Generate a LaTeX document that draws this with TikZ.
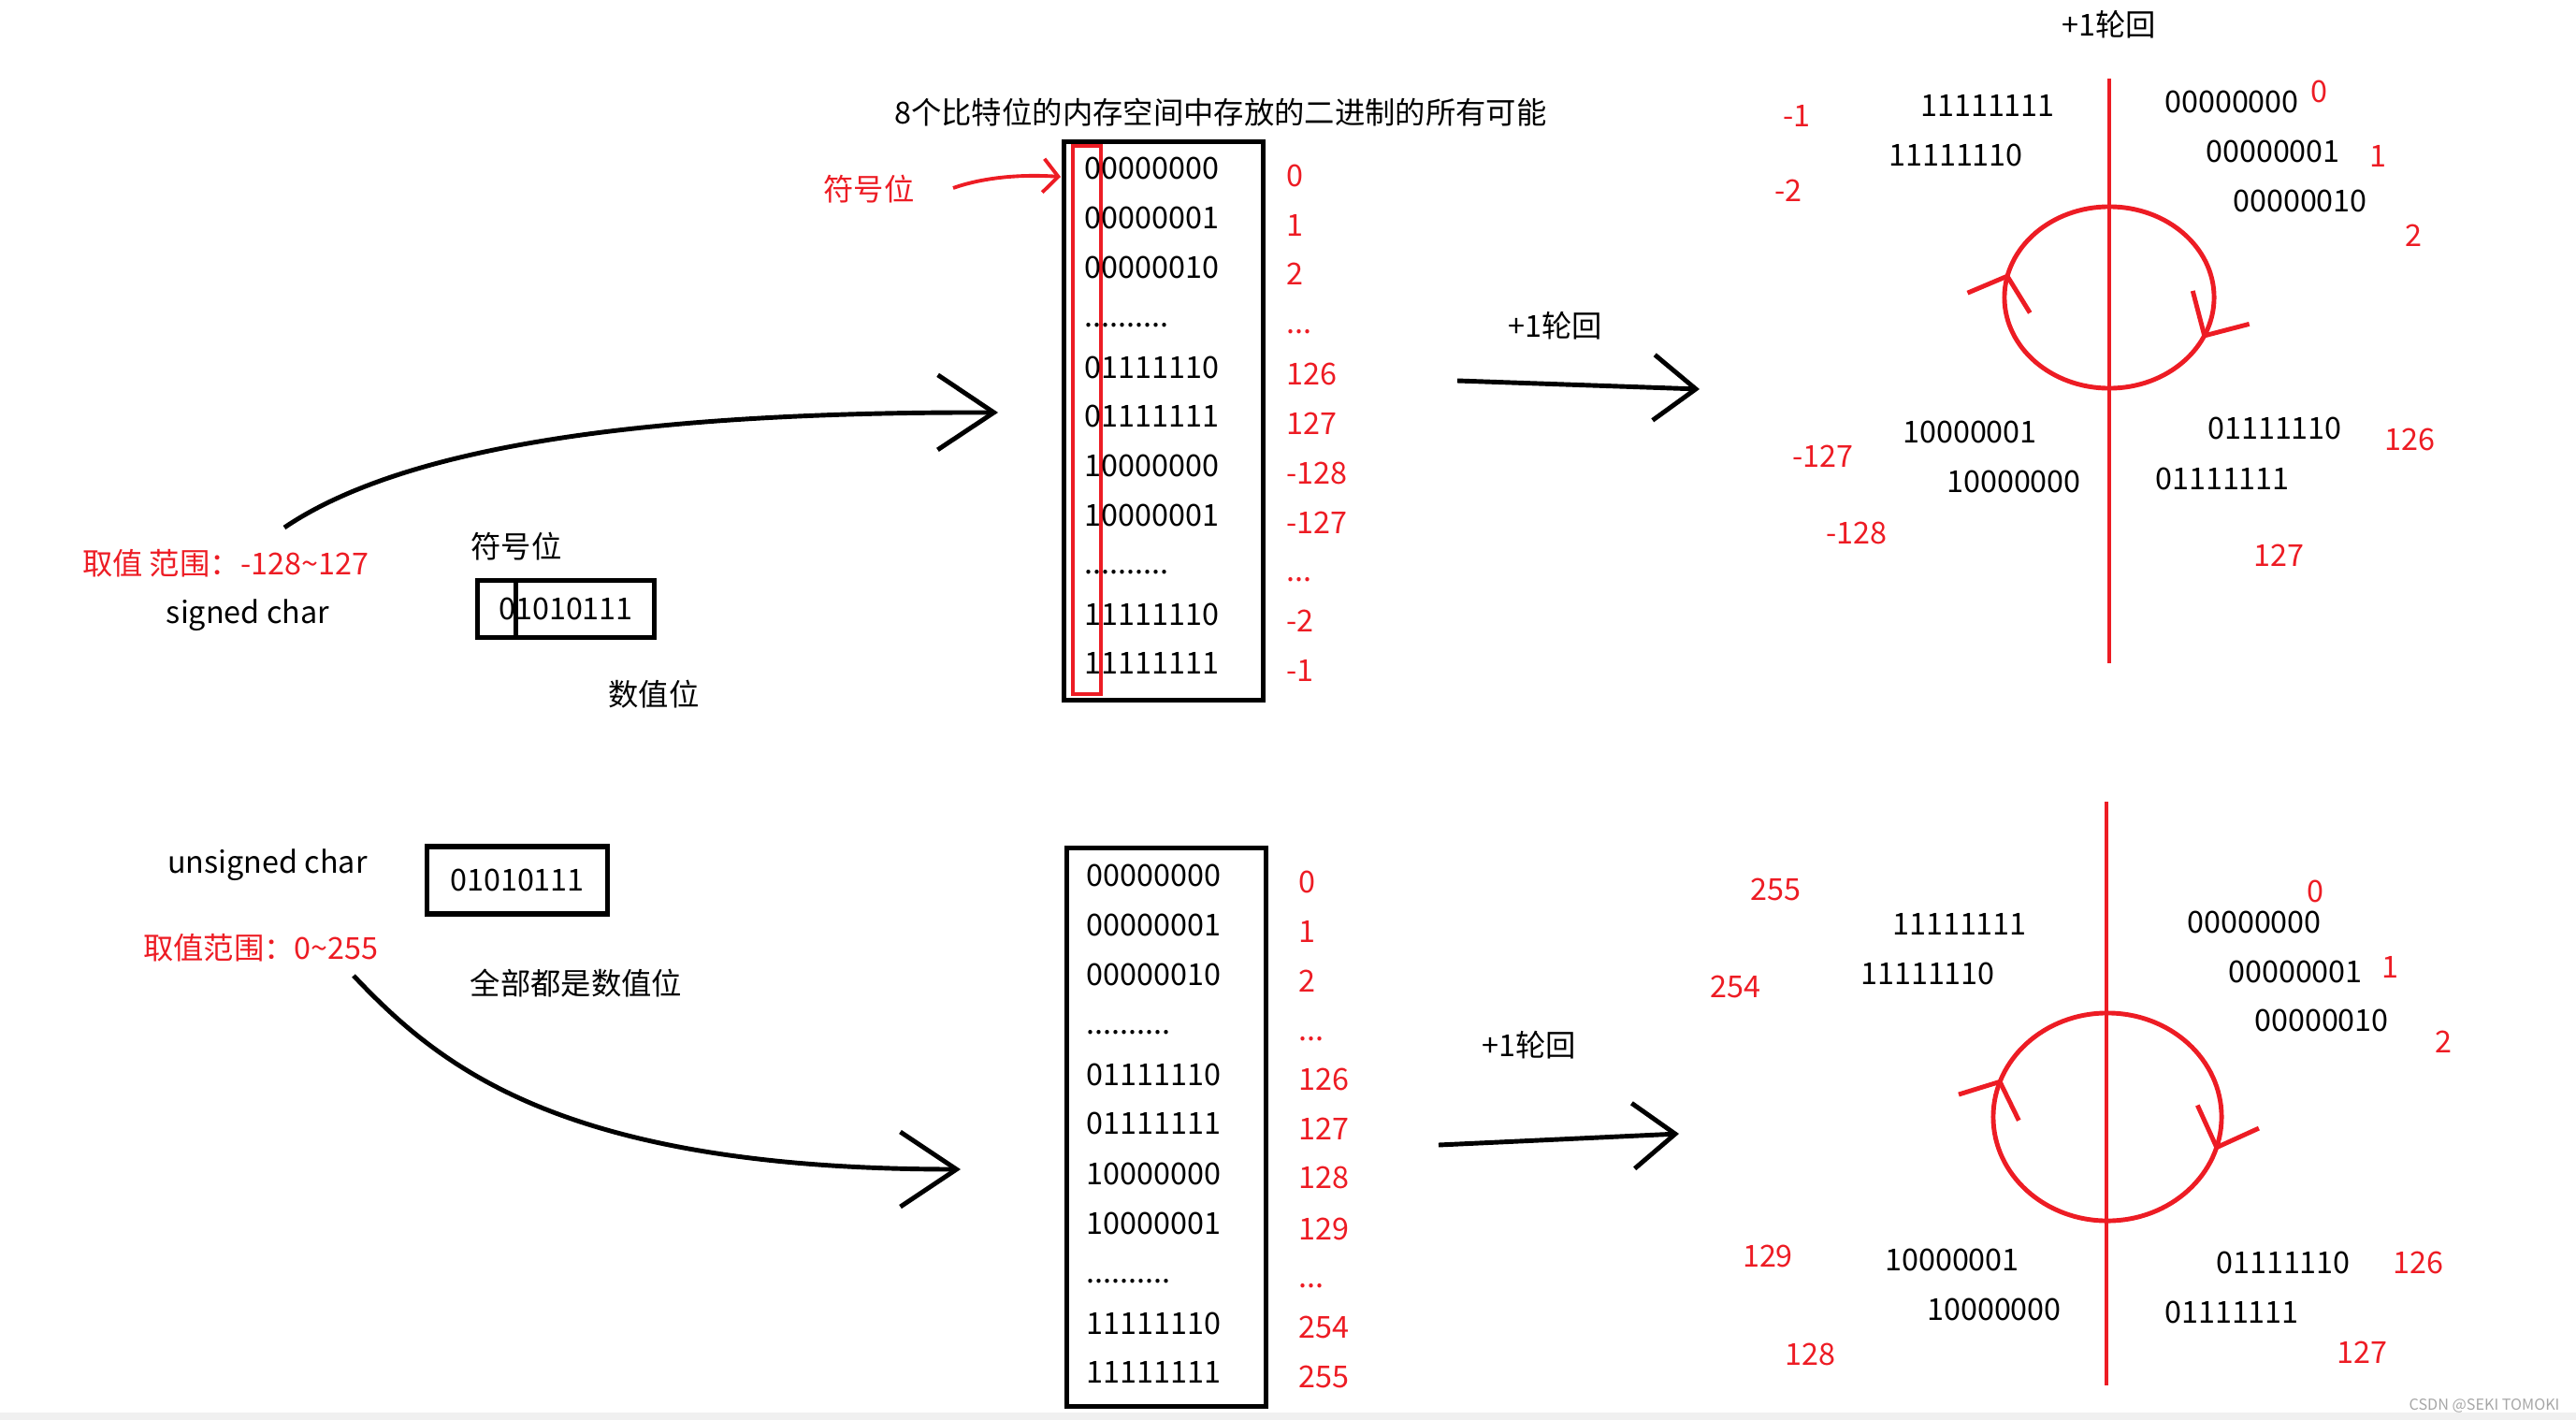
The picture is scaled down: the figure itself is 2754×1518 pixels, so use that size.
\documentclass[tikz,border=0pt]{standalone}
\usepackage{fontspec}
\setmainfont{Noto Sans CJK SC}
\usepackage{xcolor}
\usetikzlibrary{
    arrows.meta,
    decorations.markings
}
\definecolor{paintred}{RGB}{237,28,36}
\definecolor{stripgray}{RGB}{240,240,240}
\newcommand{\diagfont}{\fontsize{9.2}{11}\selectfont}

\begin{document}
\begin{tikzpicture}[
    x=0.01cm, y=-0.01cm,
    every node/.style={font=\diagfont, inner sep=0pt},
    bits/.style={anchor=west},
    value/.style={text=paintred, anchor=west},
    ringvalue/.style={text=paintred},
    colbox/.style={draw, line width=1.5pt, minimum width=2.13cm, minimum height=5.97cm},
    signbit/.style={draw=paintred, line width=1.2pt, minimum width=0.30cm, minimum height=5.85cm},
    bytebox/.style={draw, line width=1.5pt},
    handarrow/.style={line width=1.4pt, -{Straight Barb[length=6mm, width=8mm]}},
    flowarrow/.style={line width=1.4pt, -{Straight Barb[length=4.5mm, width=7mm]}},
    signarrow/.style={draw=paintred, line width=1.1pt, -{Straight Barb[length=1.6mm, width=3.6mm]}},
    redaxis/.style={draw=paintred, line width=1.1pt},
    loopring/.style 2 args={draw=paintred, line width=1.4pt, postaction={decorate},
        decoration={markings,
            mark=at position #1 with {\arrowreversed{Straight Barb[length=3mm, width=7mm]}},
            mark=at position #2 with {\arrowreversed{Straight Barb[length=3.5mm, width=7mm]}}}}
]

% Page frame
\useasboundingbox (0,0) rectangle (2754,1518);
\fill[stripgray] (0,1510) rectangle (2754,1518);

% ---------------- signed char ----------------
\node (stitle) at (1305,120) {8个比特位的内存空间中存放的二进制的所有可能};

% Column of all bit patterns
\node[colbox] (scol) at (1244,450) {};
\node[signbit] (sbit) at (1162,449) {};

\node[bits] (sr1) at (1159,180) {00000000};
\node[bits] (sr2) at (1159,233) {00000001};
\node[bits] (sr3) at (1159,286) {00000010};
\node[bits] (sr4) at (1159,348) {..........};
\node[bits] (sr5) at (1159,393) {01111110};
\node[bits] (sr6) at (1159,445) {01111111};
\node[bits] (sr7) at (1159,498) {10000000};
\node[bits] (sr8) at (1159,551) {10000001};
\node[bits] (sr9) at (1159,612) {..........};
\node[bits] (sr10) at (1159,657) {11111110};
\node[bits] (sr11) at (1159,709) {11111111};

\node[value] (sv1) at (1375,188) {0};
\node[value] (sv2) at (1375,241) {1};
\node[value] (sv3) at (1375,293) {2};
\node[value] (sv4) at (1375,355) {...};
\node[value] (sv5) at (1375,400) {126};
\node[value] (sv6) at (1375,453) {127};
\node[value] (sv7) at (1375,506) {-128};
\node[value] (sv8) at (1375,559) {-127};
\node[value] (sv9) at (1375,620) {...};
\node[value] (sv10) at (1375,664) {-2};
\node[value] (sv11) at (1375,717) {-1};

% Sign bit pointer
\node[text=paintred] (signlbl) at (929,202) {符号位};
\coordinate (signfrom) at (1019,201);
\coordinate (signtip) at (1134,189);
\draw[signarrow] (signfrom) .. controls (1050,190) and (1090,186) .. (signtip);

% Left side
\node[text=paintred] (srange) at (241,602) {取值 范围：-128\textasciitilde127};
\node (sname) at (265,658) {signed char};
\node (ssign) at (552,584) {符号位};
\node[bytebox, minimum width=1.89cm, minimum height=0.61cm] (sbyte) at (605,651) {01010111};
\draw[line width=1.5pt] ([xshift=0.44cm]sbyte.north west) -- ([xshift=0.44cm]sbyte.south west);
\node (snum) at (699,742) {数值位};

\coordinate (sfrom) at (304,564);
\coordinate (sto) at (1067,441);
\draw[handarrow] (sfrom) .. controls (435,475) and (700,440) .. (sto);

% +1 step arrow
\node (sstep) at (1663,348) {+1轮回};
\coordinate (sflowfrom) at (1558,407);
\coordinate (sflowto) at (1817,416);
\draw[flowarrow] (sflowfrom) -- (sflowto);

% Ring
\node (sringtitle) at (2255,26) {+1轮回};
\coordinate (saxtop) at (2255,84);
\coordinate (saxbot) at (2255,709);
\draw[redaxis] (saxtop) -- (saxbot);
\coordinate (sring) at (2255,318);
\draw[loopring={0.46}{0.93}] (sring) ellipse [x radius=1.12cm, y radius=0.97cm];

\node (sb1) at (2386,109) {00000000};
\node[ringvalue] (sn1) at (2479,98) {0};
\node (sb2) at (2430,162) {00000001};
\node[ringvalue] (sn2) at (2542,167) {1};
\node (sb3) at (2459,215) {00000010};
\node[ringvalue] (sn3) at (2580,252) {2};
\node (sb4) at (2432,458) {01111110};
\node[ringvalue] (sn4) at (2576,470) {126};
\node (sb5) at (2376,512) {01111111};
\node[ringvalue] (sn5) at (2436,594) {127};
\node (sb6) at (2153,515) {10000000};
\node[ringvalue] (sn6) at (1985,570) {-128};
\node (sb7) at (2106,462) {10000001};
\node[ringvalue] (sn7) at (1949,488) {-127};
\node (sb8) at (2091,166) {11111110};
\node[ringvalue] (sn8) at (1912,204) {-2};
\node (sb9) at (2125,113) {11111111};
\node[ringvalue] (sn9) at (1921,124) {-1};

% ---------------- unsigned char ----------------
\node[colbox] (ucol) at (1247,1205) {};

\node[bits] (ur1) at (1161,936) {00000000};
\node[bits] (ur2) at (1161,989) {00000001};
\node[bits] (ur3) at (1161,1042) {00000010};
\node[bits] (ur4) at (1161,1104) {..........};
\node[bits] (ur5) at (1161,1149) {01111110};
\node[bits] (ur6) at (1161,1201) {01111111};
\node[bits] (ur7) at (1161,1255) {10000000};
\node[bits] (ur8) at (1161,1308) {10000001};
\node[bits] (ur9) at (1161,1370) {..........};
\node[bits] (ur10) at (1161,1415) {11111110};
\node[bits] (ur11) at (1161,1467) {11111111};

\node[value] (uv1) at (1388,943) {0};
\node[value] (uv2) at (1388,996) {1};
\node[value] (uv3) at (1388,1049) {2};
\node[value] (uv4) at (1388,1111) {...};
\node[value] (uv5) at (1388,1154) {126};
\node[value] (uv6) at (1388,1207) {127};
\node[value] (uv7) at (1388,1259) {128};
\node[value] (uv8) at (1388,1314) {129};
\node[value] (uv9) at (1388,1375) {...};
\node[value] (uv10) at (1388,1419) {254};
\node[value] (uv11) at (1388,1472) {255};

% Left side
\node (uname) at (286,925) {unsigned char};
\node[bytebox, minimum width=1.93cm, minimum height=0.72cm] (ubyte) at (553,941) {01010111};
\node[text=paintred] (urange) at (279,1013) {取值范围：0\textasciitilde255};
\node (unum) at (616,1051) {全部都是数值位};

\coordinate (ufrom) at (378,1043);
\coordinate (uto) at (1027,1250);
\draw[handarrow] (ufrom) .. controls (470,1140) and (600,1250) .. (uto);

% +1 step arrow
\node (ustep) at (1635,1117) {+1轮回};
\coordinate (uflowfrom) at (1538,1224);
\coordinate (uflowto) at (1795,1212);
\draw[flowarrow] (uflowfrom) -- (uflowto);

% Ring
\coordinate (uaxtop) at (2252,857);
\coordinate (uaxbot) at (2252,1481);
\draw[redaxis] (uaxtop) -- (uaxbot);
\coordinate (uring) at (2253,1194);
\draw[loopring={0.443}{0.95}] (uring) ellipse [x radius=1.22cm, y radius=1.11cm];

\node (ub1) at (2410,986) {00000000};
\node[ringvalue] (un1) at (2475,953) {0};
\node (ub2) at (2454,1039) {00000001};
\node[ringvalue] (un2) at (2555,1034) {1};
\node (ub3) at (2482,1091) {00000010};
\node[ringvalue] (un3) at (2612,1114) {2};
\node (ub4) at (2441,1350) {01111110};
\node[ringvalue] (un4) at (2585,1350) {126};
\node (ub5) at (2386,1403) {01111111};
\node[ringvalue] (un5) at (2525,1446) {127};
\node (ub6) at (2132,1400) {10000000};
\node[ringvalue] (un6) at (1935,1448) {128};
\node (ub7) at (2087,1347) {10000001};
\node[ringvalue] (un7) at (1890,1343) {129};
\node (ub8) at (2061,1041) {11111110};
\node[ringvalue] (un8) at (1855,1055) {254};
\node (ub9) at (2095,988) {11111111};
\node[ringvalue] (un9) at (1898,951) {255};

% Watermark
\node[text=gray!70, font=\fontsize{4.6}{5}\selectfont] (wmark) at (2656,1503) {CSDN @SEKI TOMOKI};

\end{tikzpicture}
\end{document}
